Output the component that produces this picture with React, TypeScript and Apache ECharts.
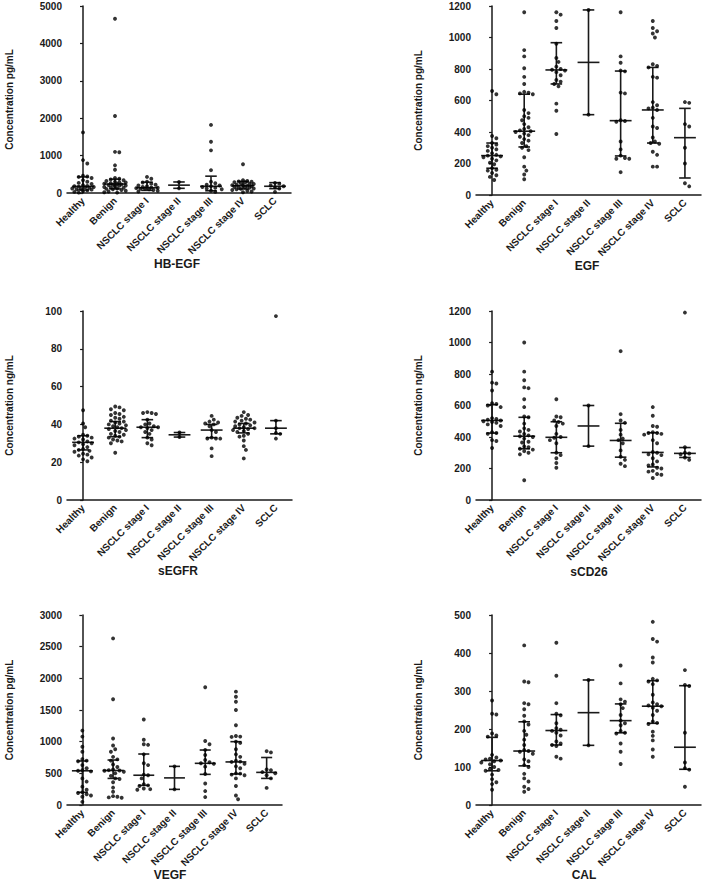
import React, { useEffect, useRef } from "react";
import * as echarts from "echarts";

const CATEGORIES = ["Healthy", "Benign", "NSCLC stage I", "NSCLC stage II", "NSCLC stage III", "NSCLC stage IV", "SCLC"];

// ---------- HB-EGF (pg/mL) ----------
const HBEGF_VALUES = [
  [1620, 880, 790, 460, 440, 430, 400, 340, 300, 270, 240, 210, 190, 180, 170, 160, 150, 140, 120, 110, 100, 90, 70, 50, 30, 10],
  [4660, 2060, 1100, 1090, 740, 620, 400, 380, 360, 340, 320, 300, 290, 280, 260, 250, 240, 230, 220, 210, 200, 190, 180, 160, 150, 140, 120, 110, 100, 80, 60, 40, 20, 10],
  [430, 380, 300, 280, 250, 220, 200, 180, 160, 150, 140, 130, 120, 110, 100, 80, 60, 40],
  [295, 125],
  [1820, 1370, 1140, 610, 300, 260, 220, 200, 180, 160, 140, 120, 100, 60, 30],
  [770, 340, 320, 310, 300, 290, 280, 260, 250, 240, 220, 210, 200, 190, 180, 170, 160, 150, 140, 120, 110, 100, 80, 60, 40, 20],
  [270, 250, 200, 180, 150, 120, 30],
];
const HBEGF_MEDIAN = [175, 240, 140, 210, 180, 196, 180];
const HBEGF_Q1 = [80, 110, 70, 125, 60, 107, 116];
const HBEGF_Q3 = [430, 370, 290, 295, 450, 312, 277];

// ---------- EGF (pg/mL) ----------
const EGF_VALUES = [
  [660, 640, 375, 360, 330, 320, 310, 300, 290, 280, 265, 255, 250, 245, 240, 230, 220, 205, 195, 170, 160, 155, 140, 125, 115, 95],
  [1160, 920, 880, 805, 750, 705, 655, 650, 645, 640, 540, 520, 500, 490, 475, 450, 430, 420, 410, 405, 400, 390, 380, 370, 355, 345, 330, 310, 300, 285, 240, 180, 155, 130, 100],
  [1160, 1145, 1105, 1060, 960, 870, 845, 815, 800, 795, 790, 780, 760, 730, 720, 705, 690, 580, 535, 387],
  [1175, 510],
  [1160, 880, 840, 790, 785, 650, 645, 475, 470, 465, 340, 290, 250, 235, 230, 230, 145],
  [1105, 1060, 1040, 1025, 1000, 830, 820, 810, 750, 745, 590, 570, 555, 550, 540, 490, 435, 425, 365, 340, 330, 325, 275, 255, 180, 180],
  [590, 585, 450, 435, 300, 200, 75, 55],
];
const EGF_MEDIAN = [250, 405, 794, 842, 472, 540, 364];
const EGF_Q1 = [170, 305, 705, 510, 248, 330, 108];
const EGF_Q3 = [330, 640, 967, 1175, 787, 810, 550];

// ---------- sEGFR (ng/mL) ----------
const SEGFR_VALUES = [
  [47.5, 40.5, 38.5, 34.5, 34, 33.5, 33, 32.5, 32, 31, 30.5, 30, 29.5, 29, 28, 27, 26.5, 26, 25.5, 24.5, 24, 23.5, 22.5, 21.5, 20.5],
  [49.5, 49, 48, 47.5, 46, 45.5, 45, 44, 43.5, 43, 42, 41.5, 41, 40.5, 40, 39.5, 39, 38.5, 38, 37.5, 37, 36.5, 36, 35, 34.5, 34, 33.5, 33, 32, 31.5, 31, 30, 25],
  [46.5, 46, 46, 45.5, 42.5, 40.5, 40, 39, 38.5, 38.5, 38, 37, 36, 35, 33, 32, 30, 29],
  [35.7, 33.3],
  [44.5, 42.5, 41.5, 41, 40.5, 40, 39, 37, 36, 33, 32.5, 32.5, 32.5, 27.3, 23.2],
  [46.5, 45, 44.5, 43.5, 43, 42.5, 42, 41.5, 41, 40.5, 40, 39.5, 39, 38.5, 38, 38, 37.5, 37, 36.5, 36, 35, 34, 33.5, 31.5, 28.5, 26.5, 22],
  [97.3, 42, 38, 35.5, 35, 32.5],
];
const SEGFR_MEDIAN = [30.5, 38, 38.5, 34.5, 37, 38, 38];
const SEGFR_Q1 = [26.5, 33.5, 33, 33.3, 33, 35.5, 35];
const SEGFR_Q3 = [34, 41.5, 42.5, 35.7, 40, 40.5, 42];

// ---------- sCD26 (ng/mL) ----------
const SCD26_VALUES = [
  [815, 745, 740, 695, 615, 610, 600, 590, 520, 515, 510, 505, 500, 495, 490, 480, 470, 430, 425, 420, 380, 375, 330],
  [1000, 815, 760, 715, 710, 640, 590, 530, 525, 485, 455, 445, 435, 420, 410, 405, 400, 390, 370, 365, 340, 335, 325, 320, 310, 300, 290, 125],
  [640, 530, 525, 505, 495, 485, 470, 420, 400, 395, 380, 360, 300, 285, 265, 235, 205],
  [600, 342],
  [945, 545, 505, 490, 445, 415, 390, 380, 360, 315, 275, 255, 230, 215],
  [590, 535, 470, 465, 430, 425, 425, 420, 415, 380, 360, 305, 300, 290, 285, 265, 245, 225, 220, 205, 200, 185, 180, 165, 160, 140],
  [1190, 335, 300, 295, 290, 270, 255],
];
const SCD26_MEDIAN = [505, 405, 398, 470, 378, 302, 296];
const SCD26_Q1 = [425, 325, 300, 342, 272, 210, 270];
const SCD26_Q3 = [605, 525, 497, 600, 487, 427, 333];

// ---------- VEGF (pg/mL) ----------
const VEGF_VALUES = [
  [1175, 1080, 920, 840, 725, 700, 690, 630, 580, 550, 540, 530, 420, 370, 290, 240, 200, 190, 170, 150, 130, 50],
  [2630, 1670, 1050, 940, 880, 840, 760, 720, 700, 640, 600, 560, 550, 545, 540, 525, 500, 460, 420, 410, 360, 275, 210, 140, 130, 120, 115],
  [1350, 1030, 960, 950, 800, 660, 630, 480, 470, 420, 330, 310, 300, 260, 250, 240],
  [610, 247],
  [1860, 1010, 960, 870, 790, 710, 675, 660, 650, 605, 490, 340, 220, 125],
  [1790, 1710, 1630, 1500, 1260, 1090, 1080, 1075, 1000, 980, 880, 800, 760, 700, 685, 680, 650, 610, 580, 500, 495, 480, 470, 420, 300, 150, 90],
  [850, 830, 560, 550, 520, 500, 470, 420, 270],
];
const VEGF_MEDIAN = [540, 545, 470, 428, 658, 680, 515];
const VEGF_Q1 = [200, 420, 310, 247, 484, 490, 420];
const VEGF_Q3 = [695, 710, 805, 610, 868, 1000, 750];

// ---------- CAL (ng/mL) ----------
const CAL_VALUES = [
  [275, 240, 238, 188, 183, 180, 132, 125, 122, 120, 117, 115, 112, 107, 100, 95, 92, 90, 80, 68, 60, 55, 40],
  [420, 325, 323, 268, 265, 252, 235, 220, 212, 195, 185, 172, 158, 145, 142, 140, 135, 120, 115, 105, 100, 82, 70, 62, 48, 42, 35],
  [427, 340, 268, 240, 236, 215, 202, 198, 195, 190, 183, 167, 162, 158, 155, 127, 122],
  [329, 157],
  [367, 320, 278, 272, 265, 255, 237, 222, 215, 210, 195, 190, 188, 162, 140, 108],
  [482, 437, 430, 388, 375, 332, 328, 325, 318, 290, 270, 265, 262, 260, 256, 248, 237, 220, 216, 213, 193, 182, 170, 146, 127],
  [355, 316, 313, 190, 112, 97, 93, 48],
];
const CAL_MEDIAN = [117, 142, 196, 243, 222, 260, 152];
const CAL_Q1 = [90, 103, 158, 157, 190, 215, 94];
const CAL_Q3 = [178, 219, 238, 329, 266, 327, 314];

const PANELS = [
  { title: "HB-EGF", unit: "Concentration pg/mL", max: 5000, interval: 1000, values: HBEGF_VALUES, median: HBEGF_MEDIAN, q1: HBEGF_Q1, q3: HBEGF_Q3,
    grid: { left: 67, top: 6, width: 224, height: 187 }, titlePos: [177, 264] },
  { title: "EGF", unit: "Concentration pg/mL", max: 1200, interval: 200, values: EGF_VALUES, median: EGF_MEDIAN, q1: EGF_Q1, q3: EGF_Q3,
    grid: { left: 476, top: 6, width: 225, height: 189 }, titlePos: [587, 266] },
  { title: "sEGFR", unit: "Concentration ng/mL", max: 100, interval: 20, values: SEGFR_VALUES, median: SEGFR_MEDIAN, q1: SEGFR_Q1, q3: SEGFR_Q3,
    grid: { left: 67, top: 311, width: 225, height: 189 }, titlePos: [178, 571] },
  { title: "sCD26", unit: "Concentration ng/mL", max: 1200, interval: 200, values: SCD26_VALUES, median: SCD26_MEDIAN, q1: SCD26_Q1, q3: SCD26_Q3,
    grid: { left: 476, top: 311, width: 225, height: 189 }, titlePos: [589, 572] },
  { title: "VEGF", unit: "Concentration pg/mL", max: 3000, interval: 500, values: VEGF_VALUES, median: VEGF_MEDIAN, q1: VEGF_Q1, q3: VEGF_Q3,
    grid: { left: 67, top: 615, width: 215, height: 190 }, titlePos: [170, 875] },
  { title: "CAL", unit: "Concentration ng/mL", max: 500, interval: 100, values: CAL_VALUES, median: CAL_MEDIAN, q1: CAL_Q1, q3: CAL_Q3,
    grid: { left: 476, top: 615, width: 225, height: 190 }, titlePos: [584, 875] },
];

const FONT = "Liberation Sans, Arial, sans-serif";
const INK = "#1a1a1a";

// deterministic beeswarm layout: horizontal offsets (category units) for each value,
// confined to a band around the category centre (dots may touch when the band is full)
function swarm(values: number[], max: number, plotH: number, catW: number): number[] {
  const d = 4.3; // px between dot centres
  const cap = catW * 0.4; // max |offset| in px
  const placed: { x: number; y: number }[] = [];
  const order = values.map((v, i) => ({ v, i })).sort((a, b) => b.v - a.v);
  const out: number[] = new Array(values.length).fill(0);
  const cands: number[] = [0];
  for (let s = 1; s * d * 0.5 <= cap; s++) {
    cands.push(s * d * 0.5, -s * d * 0.5);
  }
  for (const p of order) {
    const y = (p.v / max) * plotH;
    let chosen: number | null = null;
    let best = 0;
    let bestD = -1;
    for (const x of cands) {
      const minD = placed.reduce((m, q) => Math.min(m, Math.hypot(q.x - x, q.y - y)), Infinity);
      if (minD >= d * 0.95) {
        chosen = x;
        break;
      }
      if (minD > bestD) {
        bestD = minD;
        best = x;
      }
    }
    const x = chosen === null ? best : chosen;
    placed.push({ x, y });
    out[p.i] = x / catW;
  }
  return out;
}

export default function App() {
  const ref = useRef<HTMLDivElement>(null);
  useEffect(() => {
    if (!ref.current) return;
    const chart = echarts.init(ref.current, undefined, { renderer: "svg" });

    const grid: any[] = [];
    const xAxis: any[] = [];
    const yAxis: any[] = [];
    const series: any[] = [];
    const graphic: any[] = [];

    PANELS.forEach((p, gi) => {
      grid.push({ ...p.grid, containLabel: false });
      xAxis.push({
        type: "category",
        gridIndex: gi,
        data: CATEGORIES,
        boundaryGap: true,
        axisLine: { lineStyle: { color: INK, width: 1.5 } },
        axisTick: { alignWithLabel: true, length: 3, lineStyle: { color: INK, width: 1.2 } },
        axisLabel: { interval: 0, rotate: 45, margin: 6, fontFamily: FONT, fontWeight: "bold", fontSize: 10, color: INK },
        splitLine: { show: false },
      });
      xAxis.push({ type: "value", gridIndex: gi, min: -0.5, max: 6.5, show: false });
      yAxis.push({
        type: "value",
        gridIndex: gi,
        min: 0,
        max: p.max,
        interval: p.interval,
        name: p.unit,
        nameLocation: "middle",
        nameGap: 53,
        nameTextStyle: { fontFamily: FONT, fontWeight: "bold", fontSize: 10, color: INK },
        axisLine: { show: true, lineStyle: { color: INK, width: 1.5 } },
        axisTick: { show: true, length: 3, lineStyle: { color: INK, width: 1.2 } },
        axisLabel: {
          margin: 5,
          fontFamily: FONT,
          fontWeight: "bold",
          fontSize: 10,
          color: INK,
          formatter: (v: number) => String(v),
        },
        splitLine: { show: false },
      });

      const catW = p.grid.width / CATEGORIES.length;
      const pts: number[][] = [];
      p.values.forEach((vals, ci) => {
        const offs = swarm(vals, p.max, p.grid.height, catW);
        vals.forEach((v, k) => pts.push([ci + offs[k], v]));
      });
      series.push({
        type: "scatter",
        xAxisIndex: gi * 2 + 1,
        yAxisIndex: gi,
        data: pts,
        symbol: "circle",
        symbolSize: 3.9,
        itemStyle: { color: "#000" },
        silent: true,
      });
      series.push({
        type: "custom",
        xAxisIndex: gi * 2 + 1,
        yAxisIndex: gi,
        data: CATEGORIES.map((_, ci) => [ci, p.median[ci], p.q1[ci], p.q3[ci]]),
        renderItem: (params: any, api: any) => {
          const x = api.value(0);
          const m = api.coord([x, api.value(1)]);
          const lo = api.coord([x, api.value(2)]);
          const hi = api.coord([x, api.value(3)]);
          const w = api.size([1, 0])[0];
          const mh = w * 0.34;
          const ch = w * 0.18;
          const st = { stroke: INK, lineWidth: 1.6 };
          return {
            type: "group",
            children: [
              { type: "line", shape: { x1: m[0] - mh, y1: m[1], x2: m[0] + mh, y2: m[1] }, style: st },
              { type: "line", shape: { x1: lo[0], y1: lo[1], x2: hi[0], y2: hi[1] }, style: st },
              { type: "line", shape: { x1: lo[0] - ch, y1: lo[1], x2: lo[0] + ch, y2: lo[1] }, style: st },
              { type: "line", shape: { x1: hi[0] - ch, y1: hi[1], x2: hi[0] + ch, y2: hi[1] }, style: st },
            ],
          };
        },
        silent: true,
      });

      graphic.push({
        type: "text",
        x: p.titlePos[0],
        y: p.titlePos[1],
        style: {
          text: p.title,
          fontFamily: FONT,
          fontWeight: "bold",
          fontSize: 12,
          fill: INK,
          textAlign: "center",
          textVerticalAlign: "middle",
        },
      });
    });

    chart.setOption({
      animation: false,
      backgroundColor: "#ffffff",
      grid,
      xAxis,
      yAxis,
      series,
      graphic,
    });
    return () => chart.dispose();
  }, []);

  return <div ref={ref} style={{ position: "absolute", left: 0, top: 0, width: 704, height: 881 }} />;
}
